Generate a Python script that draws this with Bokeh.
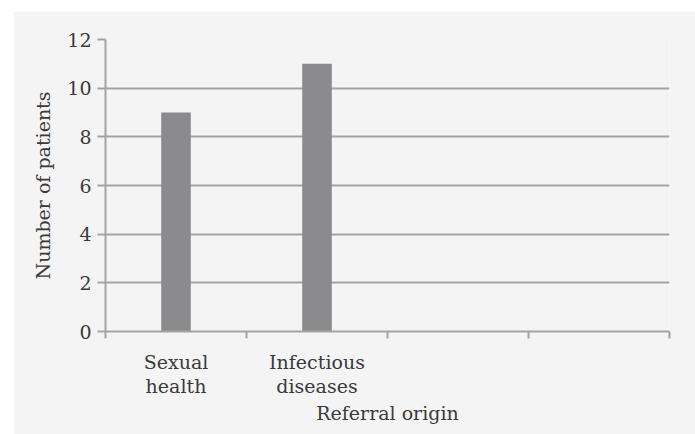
from bokeh.plotting import figure
from bokeh.models import FactorRange, Range1d, LinearAxis, CategoricalAxis, FixedTicker
from bokeh.embed import file_html
from bokeh.resources import INLINE

categories = ["Sexual\nhealth", "Infectious\ndiseases", " ", "  "]
patients = [9, 11, 0, 0]
y_ticks = [0, 2, 4, 6, 8, 10, 12]

BG = "#f4f4f4"
GRID = "#a3a3a3"
BAR = "#8b8b8e"
TXT = "#3a3a3a"
FONT = "DejaVu Serif"
FS = "19px"

p = figure(width=682, height=423, x_range=FactorRange(*categories), y_range=Range1d(0, 12),
           output_backend="svg", toolbar_location=None, x_axis_location=None,
           background_fill_color=BG, border_fill_color=BG, outline_line_color=None,
           min_border_left=92, min_border_right=26, min_border_top=28, min_border_bottom=103)
p.margin = (11, 0, 0, 13)

p.vbar(x=categories, top=patients, width=0.21, fill_color=BAR, line_color=None)

p.xgrid.visible = False
p.ygrid.grid_line_color = GRID
p.ygrid.grid_line_width = 2

ya = p.yaxis[0]
ya.ticker = FixedTicker(ticks=y_ticks)
ya.axis_line_color = GRID
ya.axis_line_width = 2
ya.major_tick_line_color = GRID
ya.major_tick_line_width = 2
ya.major_tick_out = 8
ya.major_tick_in = 0
ya.minor_tick_line_color = None
ya.major_label_text_font = FONT
ya.major_label_text_font_size = FS
ya.major_label_text_color = TXT
ya.major_label_standoff = 6
ya.axis_label = "Number of patients"
ya.axis_label_text_font = FONT
ya.axis_label_text_font_size = FS
ya.axis_label_text_font_style = "normal"
ya.axis_label_text_color = TXT
ya.axis_label_standoff = 10

# category boundaries in the factor range's synthetic coordinates
edges = list(range(len(categories) + 1))
tick_axis = LinearAxis(ticker=FixedTicker(ticks=edges),
                       major_label_overrides={e: "" for e in edges},
                       major_label_text_font_size="0px", major_label_standoff=0,
                       axis_line_color=GRID, axis_line_width=2,
                       major_tick_line_color=GRID, major_tick_line_width=2,
                       major_tick_out=7, major_tick_in=0, minor_tick_line_color=None)
p.add_layout(tick_axis, "below")

cat_axis = CategoricalAxis(axis_line_color=None, major_tick_line_color=None,
                           minor_tick_line_color=None,
                           major_label_text_font=FONT, major_label_text_font_size=FS,
                           major_label_text_color=TXT, major_label_standoff=6,
                           major_label_text_line_height=1.1,
                           axis_label="Referral origin", axis_label_text_font=FONT,
                           axis_label_text_font_size=FS, axis_label_text_font_style="normal",
                           axis_label_text_color=TXT, axis_label_standoff=2)
p.add_layout(cat_axis, "below")

open("out.html", "w").write(file_html(p, INLINE))
